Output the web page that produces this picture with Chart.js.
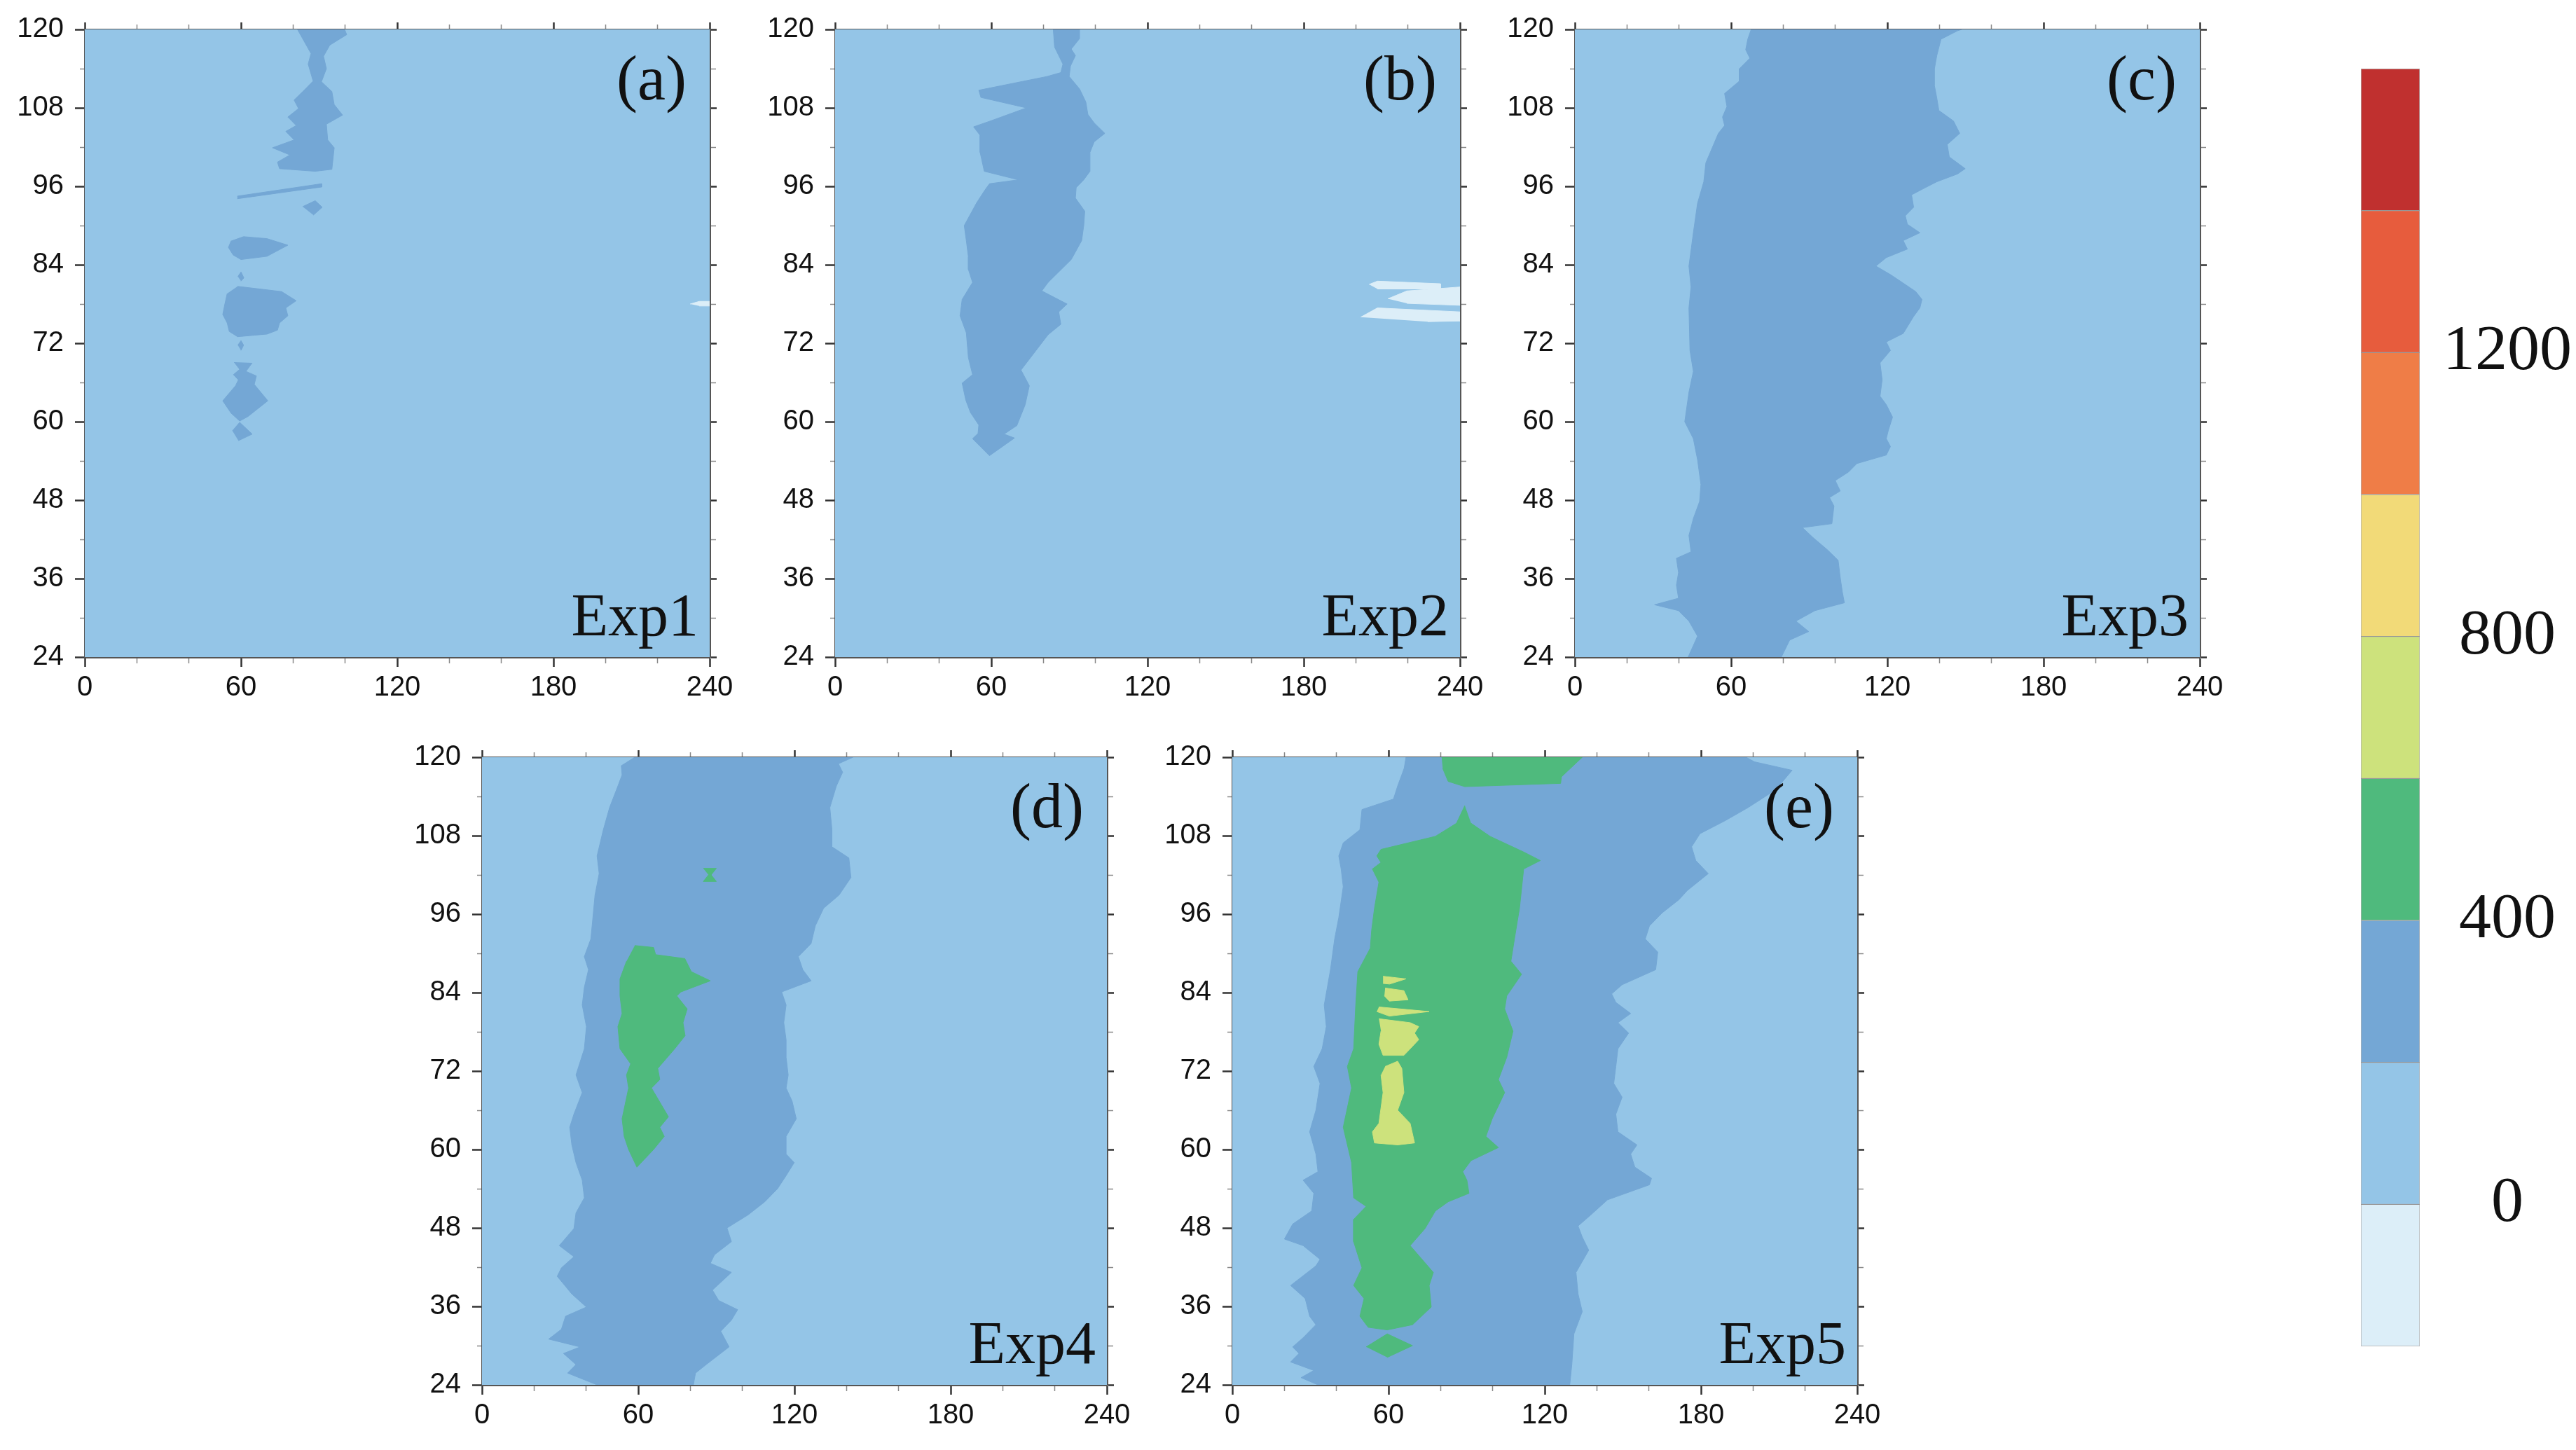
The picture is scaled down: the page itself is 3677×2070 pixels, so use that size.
<!DOCTYPE html>
<html>
<head>
<meta charset="utf-8">
<script src="https://cdn.jsdelivr.net/npm/chart.js@4.4.1/dist/chart.umd.min.js"></script>
<style>
  html, body { margin: 0; padding: 0; background: #fff; }
  body { width: 3677px; height: 2070px; position: relative; overflow: hidden; }
  .panel { position: absolute; }
  .panel canvas { position: absolute; left: 0; top: 0; }
  .tag, .name {
    position: absolute; font-family: 'Liberation Serif', 'Times New Roman', serif;
    line-height: 1; color: #111; white-space: nowrap;
  }
  .tag { font-size: 90px; right: 73px; top: 67px; }
  .name { font-size: 86px; right: 56px; top: 835px; }
  #cbar { position: absolute; left: 3370px; top: 98px; }
</style>
</head>
<body>
<script>
// contour levels (colour bar)
const levelBounds = [-200, 0, 200, 400, 600, 800, 1000, 1200, 1400, 1600];
const levelColors = ['#dceef8', '#94c5e7', '#74a7d5', '#4fba7d', '#cde27c', '#f2da78', '#ef7d47', '#e75c3d', '#c0302f'];
const cbLabels = [0, 400, 800, 1200];

// axes
const xTickValues = [0, 20, 40, 60, 80, 100, 120, 140, 160, 180, 200, 220, 240];
const xLabelValues = [0, 60, 120, 180, 240];
const yTickValues = [24, 30, 36, 42, 48, 54, 60, 66, 72, 78, 84, 90, 96, 102, 108, 114, 120];
const yLabelValues = [24, 36, 48, 60, 72, 84, 96, 108, 120];

const panelTags = ['(a)', '(b)', '(c)', '(d)', '(e)'];
const panelNames = ['Exp1', 'Exp2', 'Exp3', 'Exp4', 'Exp5'];

// contour polygons, [x, y] in data units
const exp1Blue = [
  [[81.7,120],[86.9,116.3],[85.8,114.7],[87.7,112.1],[84.5,110.8],[80.4,109.2],[82.1,107.9],[78.0,106.6],[81.2,105.3],[77.2,104.4],[80.4,103.1],[72.1,101.9],[78.8,100.8],[74.0,99.7],[74.8,98.7],[88.5,98.3],[94.9,98.6],[95.8,101.9],[93.3,103.1],[92.8,105.5],[99.0,106.9],[95.8,108.5],[94.9,110.5],[90.9,112.0],[92.8,114.0],[91.7,115.9],[94.1,117.6],[100.6,119.2],[99.8,120]],
  [[58.6,94.5],[91,96.4],[91,95.9],[58.6,94.1]],
  [[83.7,92.9],[88.5,93.8],[91.2,92.8],[87.8,91.6]],
  [[56,87.6],[61,88.3],[70,88],[78,87],[70,85.3],[60,84.8],[57,85.5],[55.1,86.7]],
  [[58.8,82.2],[60,82.9],[61.1,82.0],[60,81.5]],
  [[58.7,80.7],[75.6,79.9],[81.2,78.5],[77.2,77.4],[78,76.2],[74.8,75.1],[74,74.0],[70,73.4],[58.7,73.0],[55.5,73.8],[54.7,75.1],[53,76.4],[53.8,78.0],[54.7,79.6]],
  [[58.8,71.7],[60,72.4],[61,71.7],[60,70.9]],
  [[57.4,69.1],[59.5,68.0],[57.1,67.2],[59.0,66.4],[57.9,65.5],[53,63.2],[56.2,61.3],[59.5,60.1],[62.7,60.8],[70.3,63.2],[65.1,65.7],[65.9,67.0],[61.9,67.7],[64.3,69.0]],
  [[56.7,58.6],[59.5,59.9],[64.3,58.1],[59.0,57.1]]
];
const exp1White = [
  [[232.5,78],[236,78.4],[240,78.4],[240,77.7],[236,77.7]]
];

const exp2Blue = [
  [[83.8,120],[84.3,117.3],[85.9,116.0],[87.5,114.7],[86.7,113.4],[81.4,112.8],[55.2,110.7],[56,109.6],[73.5,108.0],[59.7,106.0],[53.2,105.1],[55.7,103.8],[55.7,101.2],[57.3,98.3],[70.4,97.0],[59.3,96.4],[57.5,95.4],[54.4,93.5],[49.6,90.0],[50.4,87.7],[51.2,85.2],[51.2,83.3],[52.8,81.3],[48.8,78.7],[48.0,76.2],[50.4,73.6],[51.2,69.8],[52.8,67.2],[48.8,65.9],[50.2,63.3],[52.0,61.4],[55.2,59.5],[54.9,58.2],[52.8,57.4],[59.3,54.8],
   [68.9,57.5],[64.9,58.1],[69.8,59.4],[73,62.6],[74.6,65.5],[71.4,67.9],[81.8,73.3],[86.7,74.9],[85.9,76.8],[89.1,78.0],[79.4,80.0],[81.8,81.3],[90.7,84.8],[94.7,87.7],[95.5,90.0],[95.9,92.2],[92.3,94.2],[92.6,95.8],[95.5,97.0],[97.9,98.3],[97.9,101.2],[99.5,102.8],[103.6,104.1],[99.5,105.7],[97.1,107.0],[96.3,108.9],[93.9,110.9],[89.9,112.8],[90.4,114.4],[92.3,116.0],[90.7,117.0],[93.9,118.6],[93.9,120]]
];
const exp2White = [
  [[205.1,81.0],[208.3,81.5],[232.5,81.1],[232.5,80.3],[208.3,80.3]],
  [[212.3,78.8],[219.6,80.0],[240,80.6],[240,77.8],[219.6,78.1]],
  [[201.9,76.0],[208.3,77.4],[240,76.8],[240,75.4],[227.6,75.3]]
];

const exp3Blue = [
  [[67.7,120],[66.4,118.5],[65.6,116.9],[67.2,115.6],[63.2,114.0],[63.2,112.1],[57.5,110.2],[58.4,108.2],[56.7,106.6],[57.5,105.3],[55.1,104.1],[50.3,99.6],[49.5,96.7],[47.1,93.4],[45.5,88.9],[43.8,83.8],[44.6,80.6],[43.8,77.4],[44.2,70.9],[45.5,67.7],[43.8,64.5],[42.2,60.0],[45.5,57.4],[47.1,54.2],[48.4,50.4],[47.9,47.8],[45.5,45.2],[43.8,42.6],[44.6,40.1],[39.0,39.1],[39.8,36.9],[39.0,35.0],[39.8,33.0],[30.6,32.0],[39.8,31.1],[43.8,29.5],[47.1,27.2],[43.5,24],
   [79.3,24],[82.5,26.6],[89.8,27.9],[84.9,29.5],[92.2,31.1],[103.5,32.3],[102.7,34.0],[101.9,36.2],[101.1,38.8],[97.0,40.4],[91.4,42.3],[87.4,43.8],[98.7,44.4],[99.5,47.1],[97.8,48.4],[101.9,49.4],[100.0,51.0],[105.1,52.3],[108.3,53.6],[119.6,54.9],[121.2,56.2],[119.6,57.4],[120.4,58.7],[122.0,60.7],[119.6,62.6],[117.2,63.9],[118.0,66.4],[117.2,69.0],[121.2,70.9],[119.6,72.2],[126.1,73.5],[130.1,76.1],[132.5,77.4],[133.3,78.7],[130.9,79.9],[126.1,81.2],[121.2,82.5],[115.6,83.8],[119.6,85.1],[127.7,86.4],[126.1,87.7],[132.5,88.9],[127.7,90.2],[126.9,91.5],[130.1,92.8],[129.3,94.7],[134.1,95.7],[139.0,96.7],[147.0,97.9],[149.9,98.7],[143.8,100.5],[143.0,102.4],[147.8,104.1],[145.4,106.0],[139.8,107.6],[139.0,109.5],[138.1,111.4],[138.1,114.0],[139.0,116.0],[140.6,118.5],[147.0,119.8],[148.6,120]]
];

const exp4Blue = [
  [[58.7,120],[53.5,118.7],[53.8,117.3],[52.2,115.6],[49.0,112.3],[46.6,108.9],[44.2,104.9],[45.0,102.2],[43.4,98.9],[42.6,95.5],[41.8,92.2],[39.3,89.5],[40.9,87.5],[39.3,84.8],[38.5,82.1],[40.1,78.8],[39.3,75.4],[36.1,71.4],[38.5,68.7],[35.3,65.4],[33.7,63.4],[34.5,60.7],[36.1,58.0],[38.5,55.3],[39.3,52.6],[36.1,50.3],[35.3,47.9],[29.7,45.3],[35.3,43.6],[30.5,41.9],[28.9,40.6],[34.5,37.9],[40.1,35.9],[32.1,34.5],[30.5,32.5],[25.6,31.0],[37.7,29.8],[31.3,28.8],[36.1,27.1],[32.9,25.8],[44.2,24],
   [81.2,24],[82.0,25.8],[86.1,27.1],[94.9,29.8],[91.7,32.2],[95.8,33.9],[98.2,35.5],[90.9,36.9],[88.5,38.5],[95.8,41.2],[87.7,42.6],[89.3,43.9],[95.8,45.9],[94.1,48.0],[102.2,50.0],[108.6,52.0],[113.5,54.0],[116.8,56.0],[119.9,58.0],[116.8,59.3],[116.8,62.0],[120.7,64.7],[119.1,67.4],[116.8,69.4],[117.6,71.4],[116.8,74.1],[116.8,76.8],[115.9,79.4],[116.8,82.1],[115.1,84.1],[126.4,85.8],[123.2,87.5],[121.5,89.5],[126.4,91.5],[128.0,94.2],[131.2,96.9],[137.1,98.9],[141.7,101.6],[140.9,104.6],[134.4,106.3],[134.4,108.9],[133.6,112.3],[136.1,115.6],[138.5,117.7],[136.9,119.0],[142.5,120]]
];
const exp4Green = [
  [[58.7,91.2],[65.9,90.9],[66.7,89.8],[77.9,89.2],[80.4,87.2],[87.7,85.8],[76.4,84.1],[74.8,83.5],[78.8,81.5],[77.2,79.4],[78.0,77.4],[74.0,75.4],[67.5,72.4],[68.3,70.7],[65.1,69.4],[71.6,65.0],[68.3,63.4],[70.0,62.0],[65.9,60.0],[59.5,57.3],[56.3,60.0],[54.6,62.0],[53.8,64.7],[56.3,69.4],[55.5,71.4],[57.1,73.1],[53.0,75.4],[52.2,78.8],[53.8,80.8],[53.0,83.5],[53.0,86.1],[55.5,88.8]],
  [[85,103],[90,103],[88,102],[90,101],[85,101],[87,102]]
];

const exp5Blue = [
  [[66.7,120],[66.0,118.3],[63.5,115.6],[61.9,113.6],[49.8,112.0],[49.0,108.9],[42.6,106.9],[40.9,104.9],[41.8,102.9],[42.6,100.2],[40.9,95.5],[39.3,92.2],[37.7,87.5],[35.3,82.1],[36.1,78.8],[34.5,75.4],[31.3,72.7],[33.7,70.1],[32.1,66.0],[29.7,62.7],[32.1,59.3],[32.9,56.6],[27.2,55.3],[31.3,53.3],[30.5,50.6],[23.2,48.6],[20.0,46.3],[27.2,45.3],[33.7,43.2],[32.1,42.2],[22.4,39.2],[28.0,37.2],[29.7,34.5],[32.1,33.2],[27.2,31.2],[23.2,29.8],[25.6,28.8],[22.4,27.5],[31.3,26.2],[26.4,25.1],[32.9,24],
   [129.6,24],[130.4,27.1],[131.2,31.8],[134.4,35.2],[132.8,37.9],[132.0,41.2],[136.9,44.6],[134.4,46.6],[132.8,48.3],[137.7,50.0],[144.1,52.3],[160.2,54.6],[161.0,55.6],[154.6,57.3],[153.0,59.3],[155.4,60.7],[148.1,62.7],[147.3,65.4],[149.7,68.0],[146.5,70.1],[147.3,72.7],[148.1,75.4],[152.2,77.8],[148.1,79.4],[153.0,80.8],[147.3,82.5],[145.7,83.8],[149.7,85.2],[162.6,87.5],[163.4,90.2],[158.6,92.2],[160.2,94.2],[165.1,96.2],[171.5,98.2],[174.7,99.6],[182.8,102.2],[178.0,104.2],[176.4,106.3],[179.6,108.3],[189.3,110.3],[198.1,112.3],[208.6,115.0],[215.0,118.0],[200.5,119.3],[197.3,120]]
];
const exp5Green = [
  [[80.4,120],[134.4,120],[126.4,117.0],[126.1,116.0],[89.3,115.5],[82.9,116.3],[80.8,118.3]],
  [[89.3,112.6],[86.1,109.9],[78.0,107.9],[57.1,105.9],[55.5,104.9],[57.1,103.9],[53.8,102.9],[56.3,100.9],[54.6,96.9],[53.5,93.5],[53.0,90.8],[48.2,87.2],[47.4,82.1],[46.6,75.4],[44.2,72.7],[45.8,69.4],[42.6,63.4],[45.8,58.0],[46.6,52.6],[51.4,51.3],[46.6,49.3],[46.6,45.9],[49.8,41.9],[46.6,39.2],[50.6,37.2],[49.0,34.5],[52.2,32.8],[59.5,32.4],
   [69.2,33.2],[76.4,35.9],[75.6,39.2],[77.2,41.2],[68.3,45.3],[74.0,47.9],[78.0,50.6],[82.9,52.0],[90.9,53.3],[90.1,55.3],[88.5,56.6],[91.7,58.3],[102.2,60.3],[97.4,62.0],[99.8,64.7],[104.6,68.7],[102.2,70.7],[105.4,74.1],[107.8,78.1],[104.6,81.5],[105.4,83.5],[111.1,86.8],[107.0,88.8],[108.6,92.8],[110.3,96.9],[111.9,102.9],[118.3,104.2],[111.9,105.5],[99.0,107.9],[91.7,109.9]],
  [[51.4,29.8],[59.5,31.8],[69.2,30.0],[59.5,28.2]]
];
const exp5Yellow = [
  [[57.9,86.5],[66.7,86.1],[60.4,85.3],[57.9,85.4]],
  [[58.7,84.7],[65.9,84.3],[67.5,82.9],[60.3,82.7],[58.4,83.5]],
  [[56.3,81.8],[75.6,81.1],[60.3,80.4],[55.5,81.1]],
  [[56.3,80.0],[68.3,79.4],[71.6,78.8],[70.0,77.8],[71.6,76.8],[68.3,75.4],[65.9,74.4],[57.9,74.4],[56.3,76.1],[57.1,78.1]],
  [[58.7,72.7],[63.5,73.5],[65.1,72.4],[65.9,68.7],[63.5,66.0],[68.3,64.0],[70.0,61.0],[63.5,60.7],[54.6,61.0],[53.8,62.7],[56.3,64.0],[57.9,68.7],[57.1,71.4]]
];

// [level index, polygons] per panel; level 1 fills the whole panel
const panelRegions = [
  [[0, exp1White], [2, exp1Blue]],
  [[0, exp2White], [2, exp2Blue]],
  [[2, exp3Blue]],
  [[2, exp4Blue], [3, exp4Green]],
  [[2, exp5Blue], [3, exp5Green], [4, exp5Yellow]]
];

// layout (pixels): left/top of each plot area
const plotBoxes = [[121, 42], [1192, 42], [2248, 42], [688, 1081], [1759, 1081]];
const PLOT_W = 892, PLOT_H = 896;
const AX_L = 121, AX_R = 40, AX_T = 42, AX_B = 70;

const tickFont = { family: "'Liberation Sans', Arial, Helvetica, sans-serif", size: 40 };

function polygonDataset(pts, level) {
  const c = levelColors[level];
  return {
    data: pts.map(p => ({ x: p[0], y: p[1] })),
    showLine: true,
    fill: 'shape',
    backgroundColor: c,
    borderColor: c,
    borderWidth: 1,
    pointRadius: 0,
    pointHoverRadius: 0,
    tension: 0,
    order: 20 - level
  };
}

function tickGrid(majors, len, outerFirst) {
  return {
    drawOnChartArea: false,
    drawTicks: true,
    tickLength: len,
    tickColor: ctx => majors.includes(ctx.tick.value) ? '#333' : '#888',
    tickWidth: ctx => majors.includes(ctx.tick.value) ? 2.5 : 1.5,
    tickBorderDash: ctx => {
      if (majors.includes(ctx.tick.value)) return [];
      return outerFirst ? [0, len - 7, 7, 100] : [7, 100];
    }
  };
}

function makePanel(i) {
  const [px, py] = plotBoxes[i];
  const wrap = document.createElement('div');
  wrap.className = 'panel';
  const W = AX_L + PLOT_W + AX_R, H = AX_T + PLOT_H + AX_B;
  wrap.style.left = (px - AX_L) + 'px';
  wrap.style.top = (py - AX_T) + 'px';
  wrap.style.width = W + 'px';
  wrap.style.height = H + 'px';
  const cv = document.createElement('canvas');
  cv.width = W; cv.height = H;
  wrap.appendChild(cv);
  const tag = document.createElement('div');
  tag.className = 'tag'; tag.textContent = panelTags[i];
  const name = document.createElement('div');
  name.className = 'name'; name.textContent = panelNames[i];
  wrap.appendChild(tag); wrap.appendChild(name);
  document.body.appendChild(wrap);

  const datasets = [];
  // 0-200 background covering the whole panel
  datasets.push(polygonDataset([[0, 24], [240, 24], [240, 120], [0, 120]], 1));
  datasets[0].order = 100;
  panelRegions[i].forEach(([level, polys]) => {
    polys.forEach(p => datasets.push(polygonDataset(p, level)));
  });

  const xBuild = s => { s.ticks = xTickValues.map(v => ({ value: v })); };
  const yBuild = s => { s.ticks = yTickValues.map(v => ({ value: v })); };
  const border = { display: true, color: '#555', width: 3 };

  new Chart(cv, {
    type: 'scatter',
    data: { datasets },
    options: {
      responsive: false,
      animation: false,
      events: [],
      layout: { padding: 0 },
      plugins: { legend: { display: false }, tooltip: { enabled: false } },
      scales: {
        x: {
          type: 'linear', position: 'bottom', min: 0, max: 240,
          afterBuildTicks: xBuild,
          afterFit: s => { s.height = AX_B; },
          ticks: { autoSkip: false, maxRotation: 0, padding: 6, font: tickFont, color: '#111',
                   callback: v => xLabelValues.includes(v) ? String(v) : '' },
          grid: tickGrid(xLabelValues, 14, false),
          border
        },
        x2: {
          type: 'linear', position: 'top', min: 0, max: 240,
          afterBuildTicks: xBuild,
          afterFit: s => { s.height = AX_T; },
          ticks: { display: false },
          grid: tickGrid(xLabelValues, 10, true),
          border
        },
        y: {
          type: 'linear', position: 'left', min: 24, max: 120,
          afterBuildTicks: yBuild,
          afterFit: s => { s.width = AX_L; },
          ticks: { autoSkip: false, padding: 16, font: tickFont, color: '#111',
                   callback: v => yLabelValues.includes(v) ? String(v) : '' },
          grid: tickGrid(yLabelValues, 14, true),
          border
        },
        y2: {
          type: 'linear', position: 'right', min: 24, max: 120,
          afterBuildTicks: yBuild,
          afterFit: s => { s.width = AX_R; },
          ticks: { display: false },
          grid: tickGrid(yLabelValues, 10, false),
          border
        }
      }
    }
  });
}

for (let i = 0; i < plotBoxes.length; i++) makePanel(i);

// colour bar
const cb = document.createElement('canvas');
cb.id = 'cbar';
cb.width = 307; cb.height = 1824;
document.body.appendChild(cb);
new Chart(cb, {
  type: 'bar',
  data: {
    labels: [''],
    datasets: levelColors.map((c, i) => ({
      data: [[levelBounds[i], levelBounds[i + 1]]],
      backgroundColor: c,
      borderColor: 'rgba(80,80,80,0.45)',
      borderWidth: 1,
      borderSkipped: false,
      grouped: false,
      barPercentage: 1,
      categoryPercentage: 1
    }))
  },
  options: {
    responsive: false,
    animation: false,
    events: [],
    layout: { padding: 0 },
    plugins: { legend: { display: false }, tooltip: { enabled: false } },
    scales: {
      x: { display: false },
      y: {
        position: 'right', min: -200, max: 1600,
        afterBuildTicks: s => { s.ticks = cbLabels.map(v => ({ value: v })); },
        afterFit: s => { s.width = 223; s.paddingTop = 0; s.paddingBottom = 0; },
        grid: { display: false, drawTicks: false },
        border: { display: false },
        ticks: { crossAlign: 'center', padding: 33, color: '#111',
                 callback: v => String(v),
                 font: { family: "'Liberation Serif', 'Times New Roman', serif", size: 92 } }
      }
    }
  }
});
</script>
</body>
</html>
